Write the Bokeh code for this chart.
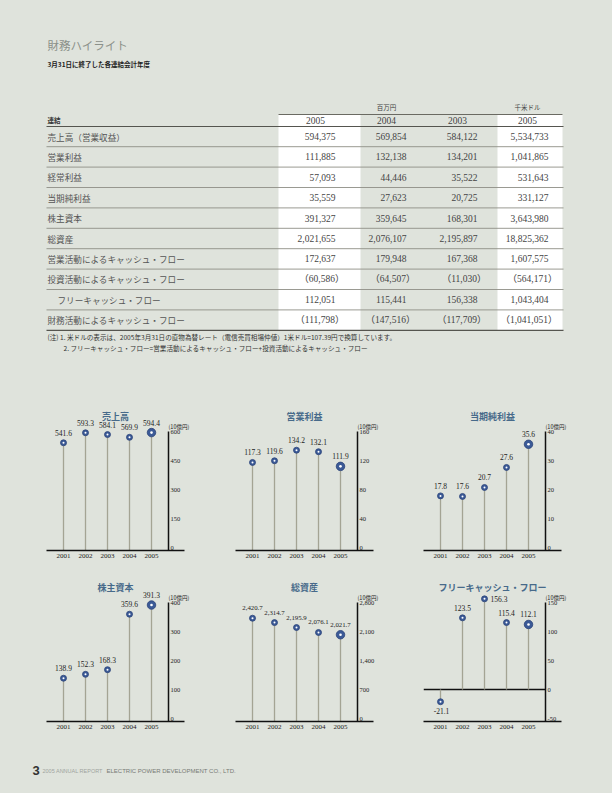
from bokeh.plotting import figure
from bokeh.layouts import column, row
from bokeh.models import (Range1d, LinearAxis, FixedTicker, Label,
                          NumeralTickFormatter, BasicTickFormatter)
from bokeh.embed import file_html
from bokeh.resources import INLINE
from bokeh.core.properties import value

BG = "#dfe3dc"
JP = "Noto Sans CJK JP"
SERIF = "Liberation Serif"
BLUE = "#3b5a97"
TITLE_BLUE = "#476a8a"
STEM = "#a4a494"

# ---------------- table data ----------------
row_labels = ["売上高（営業収益）", "営業利益", "経常利益", "当期純利益", "株主資本", "総資産",
              "営業活動によるキャッシュ・フロー", "投資活動によるキャッシュ・フロー",
              "フリーキャッシュ・フロー", "財務活動によるキャッシュ・フロー"]
col_years = ["2005", "2004", "2003", "2005"]
val_2005 = [594375, 111885, 57093, 35559, 391327, 2021655, 172637, -60586, 112051, -111798]
val_2004 = [569854, 132138, 44446, 27623, 359645, 2076107, 179948, -64507, 115441, -147516]
val_2003 = [584122, 134201, 35522, 20725, 168301, 2195897, 167368, -11030, 156338, -117709]
val_usd = [5534733, 1041865, 531643, 331127, 3643980, 18825362, 1607575, -564171, 1043404, -1041051]

notes = ["(注) 1. 米ドルの表示は、2005年3月31日の直物為替レート（電信売買相場仲値）1米ドル=107.39円で換算しています。",
         "2. フリーキャッシュ・フロー=営業活動によるキャッシュ・フロー+投資活動によるキャッシュ・フロー"]

# ---------------- chart data ----------------
years = [2001, 2002, 2003, 2004, 2005]
sales = [541.6, 593.3, 584.1, 569.9, 594.4]
op_income = [117.3, 119.6, 134.2, 132.1, 111.9]
net_income = [17.8, 17.6, 20.7, 27.6, 35.6]
equity = [138.9, 152.3, 168.3, 359.6, 391.3]
assets = [2420.7, 2314.7, 2195.9, 2076.1, 2021.7]
fcf = [-21.1, 123.5, 156.3, 115.4, 112.1]

sales_ticks = [0, 150, 300, 450, 600]
op_ticks = [0, 40, 80, 120, 160]
net_ticks = [0, 10, 20, 30, 40]
equity_ticks = [0, 100, 200, 300, 400]
assets_ticks = [0, 700, 1400, 2100, 2800]
fcf_ticks = [-50, 0, 50, 100, 150]


def fmt_cell(v):
    if v < 0:
        return "（" + f"{-v:,}" + "）"
    return f"{v:,}"


def base_fig(w, h, xr, yr, **kw):
    p = figure(width=w, height=h, x_range=xr, y_range=yr, toolbar_location=None,
               output_backend="svg", x_axis_location=None, y_axis_location=None, **kw)
    p.background_fill_color = BG
    p.border_fill_color = BG
    p.outline_line_color = None
    p.xgrid.visible = False
    p.ygrid.visible = False
    return p


# ---------------- top section (title + table) ----------------
top = base_fig(612, 390, Range1d(0, 612), Range1d(390, 0), min_border=0)

top.text(x=[47], y=[44], text=["財務ハイライト"], text_font=value(JP), text_font_size="11.5px",
         text_color="#8b918a", text_baseline="middle")
top.text(x=[47], y=[63], text=["3月31日に終了した各連結会計年度"], text_font=value(JP),
         text_font_size="6.5px", text_color="#222222", text_baseline="middle", text_font_style="bold")

# white columns
top.quad(left=[278, 497], right=[360, 562], top=[114, 114], bottom=[330, 330],
         fill_color="white", line_color=None)

n = len(row_labels)
row_y = [136 + 20.4 * i for i in range(n)]
sep_y = [y + 10.2 for y in row_y]

# lines
top.segment(x0=[278], x1=[562], y0=[114], y1=[114], line_color="#6a6a62", line_width=1)
top.segment(x0=[46], x1=[563], y0=[126], y1=[126], line_color="#55554f", line_width=1.1)
top.segment(x0=[46] * (n - 1), x1=[563] * (n - 1), y0=sep_y[:-1], y1=sep_y[:-1],
            line_color="#8f8f86", line_width=0.9)
top.segment(x0=[46], x1=[563], y0=[sep_y[-1]], y1=[sep_y[-1]], line_color="#55554f", line_width=1.2)

# headers
top.text(x=[386, 527], y=[106, 106], text=["百万円", "千米ドル"], text_font=value(JP),
         text_font_size="6.5px", text_color="#444444", text_align="center", text_baseline="middle")
top.text(x=[47], y=[119], text=["連結"], text_font=value(JP), text_font_size="6.5px",
         text_color="#333333", text_baseline="middle", text_font_style="bold")
col_center = [315, 386, 457, 527]
top.text(x=col_center, y=[120] * 4, text=col_years, text_font=value(SERIF), text_font_size="9.5px",
         text_color="#444444", text_align="center", text_baseline="middle")

# row labels
label_x = [57 if lab.startswith("フリー") else 47 for lab in row_labels]
top.text(x=label_x, y=row_y, text=row_labels, text_font=value(JP), text_font_size="8.6px",
         text_color="#555555", text_baseline="middle")

# values
col_right = [335, 406, 477, 548]
for cr, vals in zip(col_right, [val_2005, val_2004, val_2003, val_usd]):
    xs = [cr + 9 if v < 0 else cr for v in vals]
    top.text(x=xs, y=row_y, text=[fmt_cell(v) for v in vals],
             text_font=value(SERIF + ", " + JP), text_font_size="9.5px",
             text_color="#444444", text_align="right", text_baseline="middle")

# notes
top.text(x=[47, 63], y=[336, 347], text=notes, text_font=value(JP), text_font_size="6.6px",
         text_color="#333333", text_baseline="middle")

# ---------------- charts ----------------
FRAME_W = 150
BASE_W = 138
FRAME_H = 142
AXIS_PX = 116
PAD_PX = 3
x_start = 2001 - 17 / 22
x_end = x_start + FRAME_W / 22
axis_x = x_start + 122 / 22


def make_chart(title, vals, ticks, w, h, bl, br, bt, bb, label_side=None, label_size="7.5px"):
    ymin, ymax = ticks[0], ticks[-1]
    span = ymax - ymin
    ppu = AXIS_PX / span
    y0 = ymin - PAD_PX / ppu
    yr = Range1d(y0, y0 + FRAME_H / ppu)
    p = base_fig(w, h, Range1d(x_start, x_end), yr,
                 min_border_left=bl, min_border_right=br, min_border_top=bt, min_border_bottom=bb)

    xa = LinearAxis(ticker=FixedTicker(ticks=years), formatter=BasicTickFormatter(use_scientific=False),
                    bounds=(x_start, x_start + BASE_W / 22))
    xa.major_tick_in = 0
    xa.major_tick_out = 0
    xa.minor_tick_in = 0
    xa.minor_tick_out = 0
    xa.axis_line_color = "#111111"
    xa.axis_line_width = 1.3
    xa.major_label_text_font = SERIF
    xa.major_label_text_font_size = "7px"
    xa.major_label_text_color = "#222222"
    xa.major_label_standoff = 3
    p.add_layout(xa, "below")

    ya = LinearAxis(fixed_location=axis_x, bounds=(y0, ymax), ticker=FixedTicker(ticks=ticks),
                    formatter=NumeralTickFormatter(format="0,0"))
    ya.major_tick_in = 0
    ya.major_tick_out = 0
    ya.minor_tick_in = 0
    ya.minor_tick_out = 0
    ya.axis_line_color = "#111111"
    ya.axis_line_width = 1.5
    ya.major_label_text_font = SERIF
    ya.major_label_text_font_size = "6.5px"
    ya.major_label_text_color = "#222222"
    ya.major_label_standoff = 2
    p.add_layout(ya, "right")

    if ymin < 0:
        p.segment(x0=[x_start], x1=[axis_x], y0=[0], y1=[0], line_color="#111111", line_width=1.3)
        stem_base = 0
    else:
        stem_base = y0

    p.segment(x0=years, x1=years, y0=[stem_base] * len(vals), y1=vals, line_color=STEM, line_width=1.3)
    sizes = [6] * (len(vals) - 1) + [8.5]
    p.scatter(x=years, y=vals, size=sizes, fill_color=BLUE, line_color="#2c4478", line_width=0.8)
    p.scatter(x=years, y=vals, size=[2] * (len(vals) - 1) + [2.6], fill_color="white", line_color=None)

    if label_side is None:
        label_side = ["above"] * len(vals)
    texts = [f"{v:,.1f}" for v in vals]
    for side in ("above", "below", "right"):
        idx = [i for i, s in enumerate(label_side) if s == side]
        if not idx:
            continue
        xs = [years[i] for i in idx]
        ys = [vals[i] for i in idx]
        tx = [texts[i] for i in idx]
        if side == "above":
            kw = dict(text_align="center", y_offset=-10, x_offset=0)
        elif side == "below":
            kw = dict(text_align="center", y_offset=9, x_offset=1)
        else:
            kw = dict(text_align="left", y_offset=0, x_offset=6)
        p.text(x=xs, y=ys, text=tx, text_font=value(SERIF), text_font_size=label_size,
               text_color="#222222", text_baseline="middle", **kw)

    p.add_layout(Label(x=x_start + BASE_W / 44, y=ymin + 131 / ppu, text=title,
                       text_align="center", text_baseline="middle", text_font=JP,
                       text_font_size="9px", text_font_style="bold", text_color=TITLE_BLUE))
    p.add_layout(Label(x=axis_x, y=ymax, y_offset=5, text="(10億円)", text_align="left",
                       text_baseline="middle", text_font=JP, text_font_size="5.5px",
                       text_color="#222222"))
    return p


c1 = make_chart("売上高", sales, sales_ticks, 200, 176, 46, 4, 18, 16)
c2 = make_chart("営業利益", op_income, op_ticks, 195, 176, 35, 10, 18, 16)
c3 = make_chart("当期純利益", net_income, net_ticks, 217, 176, 28, 39, 18, 16)
c4 = make_chart("株主資本", equity, equity_ticks, 200, 174, 46, 4, 13, 19)
c5 = make_chart("総資産", assets, assets_ticks, 195, 174, 35, 10, 13, 19, label_size="6.8px")
c6 = make_chart("フリーキャッシュ・フロー", fcf, fcf_ticks, 217, 174, 28, 39, 13, 19,
                label_side=["below", "above", "right", "above", "above"])

# ---------------- footer ----------------
foot = base_fig(612, 53, Range1d(0, 612), Range1d(793, 740), min_border=0)
foot.text(x=[32], y=[770], text=["3"], text_font=value("Liberation Sans"), text_font_size="13px",
          text_font_style="bold", text_color="#333333", text_baseline="middle")
foot.text(x=[42], y=[770.5], text=["2005 ANNUAL REPORT"], text_font=value("Liberation Sans"),
          text_font_size="5.5px", text_color="#a0a49e", text_baseline="middle")
foot.text(x=[106], y=[770.5], text=["ELECTRIC POWER DEVELOPMENT CO., LTD."],
          text_font=value("Liberation Sans"), text_font_size="6px", text_color="#777a75",
          text_baseline="middle")

layout = column(top, row(c1, c2, c3), row(c4, c5, c6), foot)

html = file_html(layout, INLINE)
html = html.replace("</head>", "<style>body{background:%s;}</style></head>" % BG, 1)
open("out.html", "w").write(html)
